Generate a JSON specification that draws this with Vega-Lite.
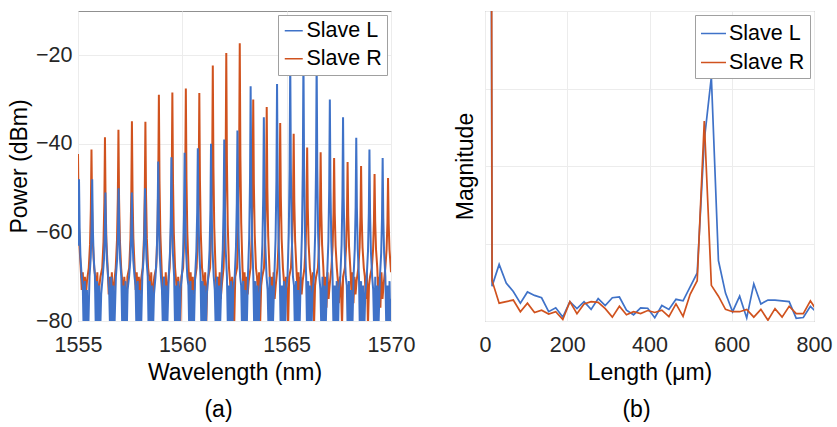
{
"$schema": "https://vega.github.io/schema/vega-lite/v6.json",
"padding": {"left": 8, "top": 10, "right": 5, "bottom": 5},
"background": "white",
"spacing": 37,
"config": {
 "font": "Liberation Sans",
 "view": {"stroke": "#909090", "strokeWidth": 1},
 "axis": {"domain": false, "ticks": false, "grid": true, "gridColor": "#ececec", "gridWidth": 1, "labelFont": "Liberation Sans", "labelFontSize": 21.5, "labelColor": "#262626", "labelFlush": false, "labelOverlap": false, "titleFont": "Liberation Sans", "titleFontSize": 23, "titleFontWeight": "normal", "titleColor": "#000000"},
 "legend": {"labelFont": "Liberation Sans", "labelFontSize": 21.5, "labelColor": "#000000", "fillColor": "white", "strokeColor": "#a0a0a0", "padding": 5, "rowPadding": 5, "labelOffset": 2, "symbolStrokeWidth": 1.5, "cornerRadius": 0},
 "title": {"font": "Liberation Sans", "fontSize": 23, "fontWeight": "normal", "color": "#000000"}
},
"datasets": {
"a": [
{"s":"R","x":1555.000,"y":-42.3},{"s":"R","x":1555.030,"y":-55.2},{"s":"R","x":1555.070,"y":-62.9},{"s":"R","x":1555.130,"y":-68},
{"s":"R","x":1555.180,"y":-73},{"s":"R","x":1555.230,"y":-69},{"s":"R","x":1555.280,"y":-76},{"s":"R","x":1555.330,"y":-70},{"s":"R","x":1555.380,"y":-74},{"s":"R","x":1555.430,"y":-71},
{"s":"R","x":1555.516,"y":-68},{"s":"R","x":1555.576,"y":-62.7},{"s":"R","x":1555.616,"y":-54.7},{"s":"R","x":1555.646,"y":-41.3},{"s":"R","x":1555.676,"y":-54.7},{"s":"R","x":1555.716,"y":-62.7},{"s":"R","x":1555.776,"y":-68},
{"s":"R","x":1555.826,"y":-70},{"s":"R","x":1555.876,"y":-75},{"s":"R","x":1555.926,"y":-69},{"s":"R","x":1555.976,"y":-81},{"s":"R","x":1556.026,"y":-72},{"s":"R","x":1556.076,"y":-70},
{"s":"R","x":1556.162,"y":-68},{"s":"R","x":1556.222,"y":-62.1},{"s":"R","x":1556.262,"y":-53.3},{"s":"R","x":1556.292,"y":-38.5},{"s":"R","x":1556.322,"y":-53.3},{"s":"R","x":1556.362,"y":-62.1},{"s":"R","x":1556.422,"y":-68},
{"s":"R","x":1556.472,"y":-74},{"s":"R","x":1556.522,"y":-70},{"s":"R","x":1556.572,"y":-77},{"s":"R","x":1556.622,"y":-69},{"s":"R","x":1556.672,"y":-75},{"s":"R","x":1556.722,"y":-72},
{"s":"R","x":1556.808,"y":-68},{"s":"R","x":1556.868,"y":-61.8},{"s":"R","x":1556.908,"y":-52.4},{"s":"R","x":1556.938,"y":-36.8},{"s":"R","x":1556.968,"y":-52.4},{"s":"R","x":1557.008,"y":-61.8},{"s":"R","x":1557.068,"y":-68},
{"s":"R","x":1557.118,"y":-71},{"s":"R","x":1557.168,"y":-76},{"s":"R","x":1557.218,"y":-70},{"s":"R","x":1557.268,"y":-73},{"s":"R","x":1557.318,"y":-81},{"s":"R","x":1557.368,"y":-70},
{"s":"R","x":1557.454,"y":-68},{"s":"R","x":1557.514,"y":-61.4},{"s":"R","x":1557.554,"y":-51.5},{"s":"R","x":1557.584,"y":-34.9},{"s":"R","x":1557.614,"y":-51.5},{"s":"R","x":1557.654,"y":-61.4},{"s":"R","x":1557.714,"y":-68},
{"s":"R","x":1557.764,"y":-73},{"s":"R","x":1557.814,"y":-69},{"s":"R","x":1557.864,"y":-76},{"s":"R","x":1557.914,"y":-70},{"s":"R","x":1557.964,"y":-74},{"s":"R","x":1558.014,"y":-71},
{"s":"R","x":1558.100,"y":-68},{"s":"R","x":1558.160,"y":-61.4},{"s":"R","x":1558.200,"y":-51.5},{"s":"R","x":1558.230,"y":-35.0},{"s":"R","x":1558.260,"y":-51.5},{"s":"R","x":1558.300,"y":-61.4},{"s":"R","x":1558.360,"y":-68},
{"s":"R","x":1558.410,"y":-70},{"s":"R","x":1558.460,"y":-75},{"s":"R","x":1558.510,"y":-69},{"s":"R","x":1558.560,"y":-81},{"s":"R","x":1558.610,"y":-72},{"s":"R","x":1558.660,"y":-70},
{"s":"R","x":1558.746,"y":-68},{"s":"R","x":1558.806,"y":-60.2},{"s":"R","x":1558.846,"y":-48.5},{"s":"R","x":1558.876,"y":-28.9},{"s":"R","x":1558.906,"y":-48.5},{"s":"R","x":1558.946,"y":-60.2},{"s":"R","x":1559.006,"y":-68},
{"s":"R","x":1559.056,"y":-74},{"s":"R","x":1559.106,"y":-70},{"s":"R","x":1559.156,"y":-77},{"s":"R","x":1559.206,"y":-69},{"s":"R","x":1559.256,"y":-75},{"s":"R","x":1559.306,"y":-72},
{"s":"R","x":1559.392,"y":-68},{"s":"R","x":1559.452,"y":-60.1},{"s":"R","x":1559.492,"y":-48.2},{"s":"R","x":1559.522,"y":-28.4},{"s":"R","x":1559.552,"y":-48.2},{"s":"R","x":1559.592,"y":-60.1},{"s":"R","x":1559.652,"y":-68},
{"s":"R","x":1559.702,"y":-71},{"s":"R","x":1559.752,"y":-76},{"s":"R","x":1559.802,"y":-70},{"s":"R","x":1559.852,"y":-73},{"s":"R","x":1559.902,"y":-81},{"s":"R","x":1559.952,"y":-70},
{"s":"R","x":1560.038,"y":-68},{"s":"R","x":1560.098,"y":-59.9},{"s":"R","x":1560.138,"y":-47.8},{"s":"R","x":1560.168,"y":-27.5},{"s":"R","x":1560.198,"y":-47.8},{"s":"R","x":1560.238,"y":-59.9},{"s":"R","x":1560.298,"y":-68},
{"s":"R","x":1560.348,"y":-73},{"s":"R","x":1560.398,"y":-69},{"s":"R","x":1560.448,"y":-76},{"s":"R","x":1560.498,"y":-70},{"s":"R","x":1560.548,"y":-74},{"s":"R","x":1560.598,"y":-71},
{"s":"R","x":1560.684,"y":-68},{"s":"R","x":1560.744,"y":-60.1},{"s":"R","x":1560.784,"y":-48.3},{"s":"R","x":1560.814,"y":-28.5},{"s":"R","x":1560.844,"y":-48.3},{"s":"R","x":1560.884,"y":-60.1},{"s":"R","x":1560.944,"y":-68},
{"s":"R","x":1560.994,"y":-70},{"s":"R","x":1561.044,"y":-75},{"s":"R","x":1561.094,"y":-69},{"s":"R","x":1561.144,"y":-81},{"s":"R","x":1561.194,"y":-72},{"s":"R","x":1561.244,"y":-70},
{"s":"R","x":1561.330,"y":-68},{"s":"R","x":1561.390,"y":-58.9},{"s":"R","x":1561.430,"y":-45.2},{"s":"R","x":1561.460,"y":-22.3},{"s":"R","x":1561.490,"y":-45.2},{"s":"R","x":1561.530,"y":-58.9},{"s":"R","x":1561.590,"y":-68},
{"s":"R","x":1561.640,"y":-74},{"s":"R","x":1561.690,"y":-70},{"s":"R","x":1561.740,"y":-77},{"s":"R","x":1561.790,"y":-69},{"s":"R","x":1561.840,"y":-75},{"s":"R","x":1561.890,"y":-72},
{"s":"R","x":1561.976,"y":-68},{"s":"R","x":1562.036,"y":-58.3},{"s":"R","x":1562.076,"y":-43.8},{"s":"R","x":1562.106,"y":-19.5},{"s":"R","x":1562.136,"y":-43.8},{"s":"R","x":1562.176,"y":-58.3},{"s":"R","x":1562.236,"y":-68},
{"s":"R","x":1562.286,"y":-71},{"s":"R","x":1562.336,"y":-76},{"s":"R","x":1562.386,"y":-70},{"s":"R","x":1562.436,"y":-73},{"s":"R","x":1562.486,"y":-81},{"s":"R","x":1562.536,"y":-70},
{"s":"R","x":1562.622,"y":-68},{"s":"R","x":1562.682,"y":-57.9},{"s":"R","x":1562.722,"y":-42.7},{"s":"R","x":1562.752,"y":-17.3},{"s":"R","x":1562.782,"y":-42.7},{"s":"R","x":1562.822,"y":-57.9},{"s":"R","x":1562.882,"y":-68},
{"s":"R","x":1562.932,"y":-73},{"s":"R","x":1562.982,"y":-69},{"s":"R","x":1563.032,"y":-76},{"s":"R","x":1563.082,"y":-70},{"s":"R","x":1563.132,"y":-74},{"s":"R","x":1563.182,"y":-71},
{"s":"R","x":1563.268,"y":-68},{"s":"R","x":1563.328,"y":-60.4},{"s":"R","x":1563.368,"y":-49.0},{"s":"R","x":1563.398,"y":-30.0},{"s":"R","x":1563.428,"y":-49.0},{"s":"R","x":1563.468,"y":-60.4},{"s":"R","x":1563.528,"y":-68},
{"s":"R","x":1563.578,"y":-70},{"s":"R","x":1563.628,"y":-75},{"s":"R","x":1563.678,"y":-69},{"s":"R","x":1563.728,"y":-81},{"s":"R","x":1563.778,"y":-72},{"s":"R","x":1563.828,"y":-70},
{"s":"R","x":1563.914,"y":-68},{"s":"R","x":1563.974,"y":-60.7},{"s":"R","x":1564.014,"y":-49.9},{"s":"R","x":1564.044,"y":-31.7},{"s":"R","x":1564.074,"y":-49.9},{"s":"R","x":1564.114,"y":-60.7},{"s":"R","x":1564.174,"y":-68},
{"s":"R","x":1564.224,"y":-74},{"s":"R","x":1564.274,"y":-70},{"s":"R","x":1564.324,"y":-77},{"s":"R","x":1564.374,"y":-69},{"s":"R","x":1564.424,"y":-75},{"s":"R","x":1564.474,"y":-72},
{"s":"R","x":1564.560,"y":-68},{"s":"R","x":1564.620,"y":-61.5},{"s":"R","x":1564.660,"y":-51.7},{"s":"R","x":1564.690,"y":-35.3},{"s":"R","x":1564.720,"y":-51.7},{"s":"R","x":1564.760,"y":-61.5},{"s":"R","x":1564.820,"y":-68},
{"s":"R","x":1564.870,"y":-71},{"s":"R","x":1564.920,"y":-76},{"s":"R","x":1564.970,"y":-70},{"s":"R","x":1565.020,"y":-73},{"s":"R","x":1565.070,"y":-81},{"s":"R","x":1565.120,"y":-70},
{"s":"R","x":1565.206,"y":-68},{"s":"R","x":1565.266,"y":-61.9},{"s":"R","x":1565.306,"y":-52.9},{"s":"R","x":1565.336,"y":-37.7},{"s":"R","x":1565.366,"y":-52.9},{"s":"R","x":1565.406,"y":-61.9},{"s":"R","x":1565.466,"y":-68},
{"s":"R","x":1565.516,"y":-73},{"s":"R","x":1565.566,"y":-69},{"s":"R","x":1565.616,"y":-76},{"s":"R","x":1565.666,"y":-70},{"s":"R","x":1565.716,"y":-74},{"s":"R","x":1565.766,"y":-71},
{"s":"R","x":1565.852,"y":-68},{"s":"R","x":1565.912,"y":-62.6},{"s":"R","x":1565.952,"y":-54.4},{"s":"R","x":1565.982,"y":-40.8},{"s":"R","x":1566.012,"y":-54.4},{"s":"R","x":1566.052,"y":-62.6},{"s":"R","x":1566.112,"y":-68},
{"s":"R","x":1566.162,"y":-70},{"s":"R","x":1566.212,"y":-75},{"s":"R","x":1566.262,"y":-69},{"s":"R","x":1566.312,"y":-81},{"s":"R","x":1566.362,"y":-72},{"s":"R","x":1566.412,"y":-70},
{"s":"R","x":1566.498,"y":-68},{"s":"R","x":1566.558,"y":-62.8},{"s":"R","x":1566.598,"y":-55.0},{"s":"R","x":1566.628,"y":-41.9},{"s":"R","x":1566.658,"y":-55.0},{"s":"R","x":1566.698,"y":-62.8},{"s":"R","x":1566.758,"y":-68},
{"s":"R","x":1566.808,"y":-74},{"s":"R","x":1566.858,"y":-70},{"s":"R","x":1566.908,"y":-77},{"s":"R","x":1566.958,"y":-69},{"s":"R","x":1567.008,"y":-75},{"s":"R","x":1567.058,"y":-72},
{"s":"R","x":1567.144,"y":-68},{"s":"R","x":1567.204,"y":-63.0},{"s":"R","x":1567.244,"y":-55.6},{"s":"R","x":1567.274,"y":-43.2},{"s":"R","x":1567.304,"y":-55.6},{"s":"R","x":1567.344,"y":-63.0},{"s":"R","x":1567.404,"y":-68},
{"s":"R","x":1567.454,"y":-71},{"s":"R","x":1567.504,"y":-76},{"s":"R","x":1567.554,"y":-70},{"s":"R","x":1567.604,"y":-73},{"s":"R","x":1567.654,"y":-81},{"s":"R","x":1567.704,"y":-70},
{"s":"R","x":1567.790,"y":-68},{"s":"R","x":1567.850,"y":-63.2},{"s":"R","x":1567.890,"y":-56.1},{"s":"R","x":1567.920,"y":-44.1},{"s":"R","x":1567.950,"y":-56.1},{"s":"R","x":1567.990,"y":-63.2},{"s":"R","x":1568.050,"y":-68},
{"s":"R","x":1568.100,"y":-73},{"s":"R","x":1568.150,"y":-69},{"s":"R","x":1568.200,"y":-76},{"s":"R","x":1568.250,"y":-70},{"s":"R","x":1568.300,"y":-74},{"s":"R","x":1568.350,"y":-71},
{"s":"R","x":1568.436,"y":-68},{"s":"R","x":1568.496,"y":-63.4},{"s":"R","x":1568.536,"y":-56.5},{"s":"R","x":1568.566,"y":-45.0},{"s":"R","x":1568.596,"y":-56.5},{"s":"R","x":1568.636,"y":-63.4},{"s":"R","x":1568.696,"y":-68},
{"s":"R","x":1568.746,"y":-70},{"s":"R","x":1568.796,"y":-75},{"s":"R","x":1568.846,"y":-69},{"s":"R","x":1568.896,"y":-81},{"s":"R","x":1568.946,"y":-72},{"s":"R","x":1568.996,"y":-70},
{"s":"R","x":1569.082,"y":-68},{"s":"R","x":1569.142,"y":-63.8},{"s":"R","x":1569.182,"y":-57.4},{"s":"R","x":1569.212,"y":-46.8},{"s":"R","x":1569.242,"y":-57.4},{"s":"R","x":1569.282,"y":-63.8},{"s":"R","x":1569.342,"y":-68},
{"s":"R","x":1569.392,"y":-74},{"s":"R","x":1569.442,"y":-70},{"s":"R","x":1569.492,"y":-77},{"s":"R","x":1569.542,"y":-69},{"s":"R","x":1569.592,"y":-75},{"s":"R","x":1569.642,"y":-72},
{"s":"R","x":1569.728,"y":-68},{"s":"R","x":1569.788,"y":-63.9},{"s":"R","x":1569.828,"y":-57.9},{"s":"R","x":1569.858,"y":-47.7},{"s":"R","x":1569.888,"y":-57.9},{"s":"R","x":1569.928,"y":-63.9},{"s":"R","x":1569.988,"y":-68},{"s":"R","x":1570.000,"y":-69},
{"s":"L","x":1555.000,"y":-63},{"s":"L","x":1555.018,"y":-59},{"s":"L","x":1555.048,"y":-48},{"s":"L","x":1555.078,"y":-59},{"s":"L","x":1555.118,"y":-65.6},{"s":"L","x":1555.178,"y":-70},
{"s":"L","x":1555.228,"y":-72},{"s":"L","x":1555.278,"y":-84},{"s":"L","x":1555.328,"y":-71},{"s":"L","x":1555.378,"y":-83},{"s":"L","x":1555.428,"y":-73},{"s":"L","x":1555.478,"y":-85},
{"s":"L","x":1555.551,"y":-70},{"s":"L","x":1555.611,"y":-65.6},{"s":"L","x":1555.651,"y":-59},{"s":"L","x":1555.681,"y":-48},{"s":"L","x":1555.711,"y":-59},{"s":"L","x":1555.751,"y":-65.6},{"s":"L","x":1555.811,"y":-70},
{"s":"L","x":1555.861,"y":-84},{"s":"L","x":1555.911,"y":-71},{"s":"L","x":1555.961,"y":-85},{"s":"L","x":1556.011,"y":-72},{"s":"L","x":1556.061,"y":-83},{"s":"L","x":1556.111,"y":-74},
{"s":"L","x":1556.183,"y":-70},{"s":"L","x":1556.243,"y":-66.2},{"s":"L","x":1556.283,"y":-60.5},{"s":"L","x":1556.313,"y":-51},{"s":"L","x":1556.343,"y":-60.5},{"s":"L","x":1556.383,"y":-66.2},{"s":"L","x":1556.443,"y":-70},
{"s":"L","x":1556.493,"y":-73},{"s":"L","x":1556.543,"y":-83},{"s":"L","x":1556.593,"y":-70},{"s":"L","x":1556.643,"y":-86},{"s":"L","x":1556.693,"y":-72},{"s":"L","x":1556.743,"y":-82},
{"s":"L","x":1556.816,"y":-70},{"s":"L","x":1556.876,"y":-66},{"s":"L","x":1556.916,"y":-60},{"s":"L","x":1556.946,"y":-50},{"s":"L","x":1556.976,"y":-60},{"s":"L","x":1557.016,"y":-66},{"s":"L","x":1557.076,"y":-70},
{"s":"L","x":1557.126,"y":-83},{"s":"L","x":1557.176,"y":-72},{"s":"L","x":1557.226,"y":-84},{"s":"L","x":1557.276,"y":-71},{"s":"L","x":1557.326,"y":-85},{"s":"L","x":1557.376,"y":-73},
{"s":"L","x":1557.449,"y":-70},{"s":"L","x":1557.509,"y":-66.2},{"s":"L","x":1557.549,"y":-60.5},{"s":"L","x":1557.579,"y":-51},{"s":"L","x":1557.609,"y":-60.5},{"s":"L","x":1557.649,"y":-66.2},{"s":"L","x":1557.709,"y":-70},
{"s":"L","x":1557.759,"y":-72},{"s":"L","x":1557.809,"y":-84},{"s":"L","x":1557.859,"y":-71},{"s":"L","x":1557.909,"y":-83},{"s":"L","x":1557.959,"y":-73},{"s":"L","x":1558.009,"y":-85},
{"s":"L","x":1558.082,"y":-70},{"s":"L","x":1558.142,"y":-66},{"s":"L","x":1558.182,"y":-60},{"s":"L","x":1558.212,"y":-50},{"s":"L","x":1558.242,"y":-60},{"s":"L","x":1558.282,"y":-66},{"s":"L","x":1558.342,"y":-70},
{"s":"L","x":1558.392,"y":-84},{"s":"L","x":1558.442,"y":-71},{"s":"L","x":1558.492,"y":-85},{"s":"L","x":1558.542,"y":-72},{"s":"L","x":1558.592,"y":-83},{"s":"L","x":1558.642,"y":-74},
{"s":"L","x":1558.714,"y":-70},{"s":"L","x":1558.774,"y":-64.8},{"s":"L","x":1558.814,"y":-57},{"s":"L","x":1558.844,"y":-44},{"s":"L","x":1558.874,"y":-57},{"s":"L","x":1558.914,"y":-64.8},{"s":"L","x":1558.974,"y":-70},
{"s":"L","x":1559.024,"y":-73},{"s":"L","x":1559.074,"y":-83},{"s":"L","x":1559.124,"y":-70},{"s":"L","x":1559.174,"y":-86},{"s":"L","x":1559.224,"y":-72},{"s":"L","x":1559.274,"y":-82},
{"s":"L","x":1559.347,"y":-70},{"s":"L","x":1559.407,"y":-64.6},{"s":"L","x":1559.447,"y":-56.5},{"s":"L","x":1559.477,"y":-43},{"s":"L","x":1559.507,"y":-56.5},{"s":"L","x":1559.547,"y":-64.6},{"s":"L","x":1559.607,"y":-70},
{"s":"L","x":1559.657,"y":-83},{"s":"L","x":1559.707,"y":-72},{"s":"L","x":1559.757,"y":-84},{"s":"L","x":1559.807,"y":-71},{"s":"L","x":1559.857,"y":-85},{"s":"L","x":1559.907,"y":-73},
{"s":"L","x":1559.980,"y":-70},{"s":"L","x":1560.040,"y":-64.4},{"s":"L","x":1560.080,"y":-56},{"s":"L","x":1560.110,"y":-42},{"s":"L","x":1560.140,"y":-56},{"s":"L","x":1560.180,"y":-64.4},{"s":"L","x":1560.240,"y":-70},
{"s":"L","x":1560.290,"y":-72},{"s":"L","x":1560.340,"y":-84},{"s":"L","x":1560.390,"y":-71},{"s":"L","x":1560.440,"y":-83},{"s":"L","x":1560.490,"y":-73},{"s":"L","x":1560.540,"y":-85},
{"s":"L","x":1560.612,"y":-70},{"s":"L","x":1560.672,"y":-64.2},{"s":"L","x":1560.712,"y":-55.5},{"s":"L","x":1560.742,"y":-41},{"s":"L","x":1560.772,"y":-55.5},{"s":"L","x":1560.812,"y":-64.2},{"s":"L","x":1560.872,"y":-70},
{"s":"L","x":1560.922,"y":-84},{"s":"L","x":1560.972,"y":-71},{"s":"L","x":1561.022,"y":-85},{"s":"L","x":1561.072,"y":-72},{"s":"L","x":1561.122,"y":-83},{"s":"L","x":1561.172,"y":-74},
{"s":"L","x":1561.245,"y":-70},{"s":"L","x":1561.305,"y":-64},{"s":"L","x":1561.345,"y":-55},{"s":"L","x":1561.375,"y":-40},{"s":"L","x":1561.405,"y":-55},{"s":"L","x":1561.445,"y":-64},{"s":"L","x":1561.505,"y":-70},
{"s":"L","x":1561.555,"y":-73},{"s":"L","x":1561.605,"y":-83},{"s":"L","x":1561.655,"y":-70},{"s":"L","x":1561.705,"y":-86},{"s":"L","x":1561.755,"y":-72},{"s":"L","x":1561.805,"y":-82},
{"s":"L","x":1561.878,"y":-70},{"s":"L","x":1561.938,"y":-63.8},{"s":"L","x":1561.978,"y":-54.5},{"s":"L","x":1562.008,"y":-39},{"s":"L","x":1562.038,"y":-54.5},{"s":"L","x":1562.078,"y":-63.8},{"s":"L","x":1562.138,"y":-70},
{"s":"L","x":1562.188,"y":-83},{"s":"L","x":1562.238,"y":-72},{"s":"L","x":1562.288,"y":-84},{"s":"L","x":1562.338,"y":-71},{"s":"L","x":1562.388,"y":-85},{"s":"L","x":1562.438,"y":-73},
{"s":"L","x":1562.510,"y":-70},{"s":"L","x":1562.570,"y":-63.4},{"s":"L","x":1562.610,"y":-53.5},{"s":"L","x":1562.640,"y":-37},{"s":"L","x":1562.670,"y":-53.5},{"s":"L","x":1562.710,"y":-63.4},{"s":"L","x":1562.770,"y":-70},
{"s":"L","x":1562.820,"y":-72},{"s":"L","x":1562.870,"y":-84},{"s":"L","x":1562.920,"y":-71},{"s":"L","x":1562.970,"y":-83},{"s":"L","x":1563.020,"y":-73},{"s":"L","x":1563.070,"y":-85},
{"s":"L","x":1563.143,"y":-70},{"s":"L","x":1563.203,"y":-61.4},{"s":"L","x":1563.243,"y":-48.5},{"s":"L","x":1563.273,"y":-27},{"s":"L","x":1563.303,"y":-48.5},{"s":"L","x":1563.343,"y":-61.4},{"s":"L","x":1563.403,"y":-70},
{"s":"L","x":1563.453,"y":-84},{"s":"L","x":1563.503,"y":-71},{"s":"L","x":1563.553,"y":-85},{"s":"L","x":1563.603,"y":-72},{"s":"L","x":1563.653,"y":-83},{"s":"L","x":1563.703,"y":-74},
{"s":"L","x":1563.776,"y":-70},{"s":"L","x":1563.836,"y":-62.8},{"s":"L","x":1563.876,"y":-52},{"s":"L","x":1563.906,"y":-34},{"s":"L","x":1563.936,"y":-52},{"s":"L","x":1563.976,"y":-62.8},{"s":"L","x":1564.036,"y":-70},
{"s":"L","x":1564.086,"y":-73},{"s":"L","x":1564.136,"y":-83},{"s":"L","x":1564.186,"y":-70},{"s":"L","x":1564.236,"y":-86},{"s":"L","x":1564.286,"y":-72},{"s":"L","x":1564.336,"y":-82},
{"s":"L","x":1564.409,"y":-70},{"s":"L","x":1564.469,"y":-61.3},{"s":"L","x":1564.509,"y":-48.3},{"s":"L","x":1564.539,"y":-26.5},{"s":"L","x":1564.569,"y":-48.3},{"s":"L","x":1564.609,"y":-61.3},{"s":"L","x":1564.669,"y":-70},
{"s":"L","x":1564.719,"y":-83},{"s":"L","x":1564.769,"y":-72},{"s":"L","x":1564.819,"y":-84},{"s":"L","x":1564.869,"y":-71},{"s":"L","x":1564.919,"y":-85},{"s":"L","x":1564.969,"y":-73},
{"s":"L","x":1565.041,"y":-70},{"s":"L","x":1565.101,"y":-60.2},{"s":"L","x":1565.141,"y":-45.5},{"s":"L","x":1565.171,"y":-21},{"s":"L","x":1565.201,"y":-45.5},{"s":"L","x":1565.241,"y":-60.2},{"s":"L","x":1565.301,"y":-70},
{"s":"L","x":1565.351,"y":-72},{"s":"L","x":1565.401,"y":-84},{"s":"L","x":1565.451,"y":-71},{"s":"L","x":1565.501,"y":-83},{"s":"L","x":1565.551,"y":-73},{"s":"L","x":1565.601,"y":-85},
{"s":"L","x":1565.674,"y":-70},{"s":"L","x":1565.734,"y":-60},{"s":"L","x":1565.774,"y":-45},{"s":"L","x":1565.804,"y":-20},{"s":"L","x":1565.834,"y":-45},{"s":"L","x":1565.874,"y":-60},{"s":"L","x":1565.934,"y":-70},
{"s":"L","x":1565.984,"y":-84},{"s":"L","x":1566.034,"y":-71},{"s":"L","x":1566.084,"y":-85},{"s":"L","x":1566.134,"y":-72},{"s":"L","x":1566.184,"y":-83},{"s":"L","x":1566.234,"y":-74},
{"s":"L","x":1566.307,"y":-70},{"s":"L","x":1566.367,"y":-60.2},{"s":"L","x":1566.407,"y":-45.5},{"s":"L","x":1566.437,"y":-21},{"s":"L","x":1566.467,"y":-45.5},{"s":"L","x":1566.507,"y":-60.2},{"s":"L","x":1566.567,"y":-70},
{"s":"L","x":1566.617,"y":-73},{"s":"L","x":1566.667,"y":-83},{"s":"L","x":1566.717,"y":-70},{"s":"L","x":1566.767,"y":-86},{"s":"L","x":1566.817,"y":-72},{"s":"L","x":1566.867,"y":-82},
{"s":"L","x":1566.939,"y":-70},{"s":"L","x":1566.999,"y":-62},{"s":"L","x":1567.039,"y":-50},{"s":"L","x":1567.069,"y":-30},{"s":"L","x":1567.099,"y":-50},{"s":"L","x":1567.139,"y":-62},{"s":"L","x":1567.199,"y":-70},
{"s":"L","x":1567.249,"y":-83},{"s":"L","x":1567.299,"y":-72},{"s":"L","x":1567.349,"y":-84},{"s":"L","x":1567.399,"y":-71},{"s":"L","x":1567.449,"y":-85},{"s":"L","x":1567.499,"y":-73},
{"s":"L","x":1567.572,"y":-70},{"s":"L","x":1567.632,"y":-62.8},{"s":"L","x":1567.672,"y":-52},{"s":"L","x":1567.702,"y":-34},{"s":"L","x":1567.732,"y":-52},{"s":"L","x":1567.772,"y":-62.8},{"s":"L","x":1567.832,"y":-70},
{"s":"L","x":1567.882,"y":-72},{"s":"L","x":1567.932,"y":-84},{"s":"L","x":1567.982,"y":-71},{"s":"L","x":1568.032,"y":-83},{"s":"L","x":1568.082,"y":-73},{"s":"L","x":1568.132,"y":-85},
{"s":"L","x":1568.205,"y":-70},{"s":"L","x":1568.265,"y":-63.7},{"s":"L","x":1568.305,"y":-54.3},{"s":"L","x":1568.335,"y":-38.6},{"s":"L","x":1568.365,"y":-54.3},{"s":"L","x":1568.405,"y":-63.7},{"s":"L","x":1568.465,"y":-70},
{"s":"L","x":1568.515,"y":-84},{"s":"L","x":1568.565,"y":-71},{"s":"L","x":1568.615,"y":-85},{"s":"L","x":1568.665,"y":-72},{"s":"L","x":1568.715,"y":-83},{"s":"L","x":1568.765,"y":-74},
{"s":"L","x":1568.837,"y":-70},{"s":"L","x":1568.897,"y":-64.3},{"s":"L","x":1568.937,"y":-55.7},{"s":"L","x":1568.967,"y":-41.3},{"s":"L","x":1568.997,"y":-55.7},{"s":"L","x":1569.037,"y":-64.3},{"s":"L","x":1569.097,"y":-70},
{"s":"L","x":1569.147,"y":-73},{"s":"L","x":1569.197,"y":-83},{"s":"L","x":1569.247,"y":-70},{"s":"L","x":1569.297,"y":-86},{"s":"L","x":1569.347,"y":-72},{"s":"L","x":1569.397,"y":-82},
{"s":"L","x":1569.470,"y":-70},{"s":"L","x":1569.530,"y":-64.6},{"s":"L","x":1569.570,"y":-56.6},{"s":"L","x":1569.600,"y":-43.2},{"s":"L","x":1569.630,"y":-56.6},{"s":"L","x":1569.670,"y":-64.6},{"s":"L","x":1569.730,"y":-70},
{"s":"L","x":1569.780,"y":-83},{"s":"L","x":1569.830,"y":-72},{"s":"L","x":1569.880,"y":-84},{"s":"L","x":1569.930,"y":-71},{"s":"L","x":1569.980,"y":-85},{"s":"L","x":1570.000,"y":-75}
],
"b": [
{"s":"L","x":0,"y":40},{"s":"L","x":17.2,"y":0.45},{"s":"L","x":34.4,"y":0.73},{"s":"L","x":51.6,"y":0.49},{"s":"L","x":68.8,"y":0.38},{"s":"L","x":86,"y":0.23},{"s":"L","x":103.2,"y":0.375},{"s":"L","x":120.4,"y":0.33},{"s":"L","x":137.6,"y":0.30},{"s":"L","x":154.8,"y":0.12},{"s":"L","x":172,"y":0.17},{"s":"L","x":189.2,"y":0.05},{"s":"L","x":206.4,"y":0.25},{"s":"L","x":223.6,"y":0.16},{"s":"L","x":240.8,"y":0.25},{"s":"L","x":258,"y":0.15},{"s":"L","x":275.2,"y":0.29},{"s":"L","x":292.4,"y":0.20},{"s":"L","x":309.6,"y":0.30},{"s":"L","x":326.8,"y":0.31},{"s":"L","x":344,"y":0.14},{"s":"L","x":361.2,"y":0.08},{"s":"L","x":378.4,"y":0.17},{"s":"L","x":395.6,"y":0.165},{"s":"L","x":412.8,"y":0.043},{"s":"L","x":430,"y":0.20},{"s":"L","x":447.2,"y":0.15},{"s":"L","x":464.4,"y":0.28},{"s":"L","x":481.6,"y":0.26},{"s":"L","x":498.8,"y":0.44},{"s":"L","x":516,"y":0.62},{"s":"L","x":533.2,"y":2.33},{"s":"L","x":550.4,"y":3.15},{"s":"L","x":567.6,"y":0.78},{"s":"L","x":584.8,"y":0.36},{"s":"L","x":602,"y":0.12},{"s":"L","x":619.2,"y":0.32},{"s":"L","x":636.4,"y":0.04},{"s":"L","x":653.6,"y":0.48},{"s":"L","x":670.8,"y":0.22},{"s":"L","x":688,"y":0.27},{"s":"L","x":705.2,"y":0.27},{"s":"L","x":722.4,"y":0.26},{"s":"L","x":739.6,"y":0.25},{"s":"L","x":756.8,"y":0.035},{"s":"L","x":774,"y":0.045},{"s":"L","x":791.2,"y":0.19},{"s":"L","x":808.4,"y":0.1},
{"s":"R","x":0,"y":60},{"s":"R","x":17.2,"y":0.52},{"s":"R","x":34.4,"y":0.23},{"s":"R","x":51.6,"y":0.25},{"s":"R","x":68.8,"y":0.27},{"s":"R","x":86,"y":0.12},{"s":"R","x":103.2,"y":0.23},{"s":"R","x":120.4,"y":0.11},{"s":"R","x":137.6,"y":0.14},{"s":"R","x":154.8,"y":0.09},{"s":"R","x":172,"y":0.12},{"s":"R","x":189.2,"y":0.02},{"s":"R","x":206.4,"y":0.25},{"s":"R","x":223.6,"y":0.095},{"s":"R","x":240.8,"y":0.22},{"s":"R","x":258,"y":0.25},{"s":"R","x":275.2,"y":0.24},{"s":"R","x":292.4,"y":0.16},{"s":"R","x":309.6,"y":0.05},{"s":"R","x":326.8,"y":0.19},{"s":"R","x":344,"y":0.08},{"s":"R","x":361.2,"y":0.12},{"s":"R","x":378.4,"y":0.095},{"s":"R","x":395.6,"y":0.135},{"s":"R","x":412.8,"y":0.11},{"s":"R","x":430,"y":0.14},{"s":"R","x":447.2,"y":0.056},{"s":"R","x":464.4,"y":0.22},{"s":"R","x":481.6,"y":0.06},{"s":"R","x":498.8,"y":0.345},{"s":"R","x":516,"y":0.52},{"s":"R","x":533.2,"y":2.58},{"s":"R","x":550.4,"y":0.46},{"s":"R","x":567.6,"y":0.32},{"s":"R","x":584.8,"y":0.15},{"s":"R","x":602,"y":0.12},{"s":"R","x":619.2,"y":0.12},{"s":"R","x":636.4,"y":0.15},{"s":"R","x":653.6,"y":0.05},{"s":"R","x":670.8,"y":0.15},{"s":"R","x":688,"y":0.01},{"s":"R","x":705.2,"y":0.16},{"s":"R","x":722.4,"y":0.05},{"s":"R","x":739.6,"y":0.19},{"s":"R","x":756.8,"y":0.095},{"s":"R","x":774,"y":0.095},{"s":"R","x":791.2,"y":0.26},{"s":"R","x":808.4,"y":0.12}
]
},
"resolve": {"scale": {"color": "independent"}, "legend": {"color": "independent"}},
"hconcat": [
{
 "width": 313, "height": 310,
 "data": {"name": "a"},
 "title": {"text": "(a)", "orient": "bottom", "frame": "group", "dx": -16, "offset": 14},
 "mark": {"type": "line", "clip": true, "strokeWidth": 2},
 "encoding": {
  "x": {"field": "x", "type": "quantitative", "scale": {"domain": [1555, 1570], "nice": false, "zero": false}, "axis": {"values": [1555, 1560, 1565, 1570], "format": "d", "title": "Wavelength (nm)", "labelPadding": 13, "titlePadding": 6}},
  "y": {"field": "y", "type": "quantitative", "scale": {"domain": [-80, -10], "nice": false, "zero": false}, "axis": {"values": [-80, -60, -40, -20], "title": "Power (dBm)", "labelPadding": 6, "titlePadding": 4}},
  "color": {"field": "s", "type": "nominal", "scale": {"domain": ["L", "R"], "range": ["#3F72C8", "#D0521E"]}, "legend": {"title": null, "orient": "top-right", "offset": 4, "labelExpr": "'Slave ' + datum.label", "symbolSize": 324}}
 }
},
{
 "width": 329, "height": 310,
 "data": {"name": "b"},
 "title": {"text": "(b)", "orient": "bottom", "frame": "group", "dx": -13, "offset": 14},
 "mark": {"type": "line", "clip": true, "strokeWidth": 1.7},
 "encoding": {
  "x": {"field": "x", "type": "quantitative", "scale": {"domain": [0, 800], "nice": false, "zero": false}, "axis": {"values": [0, 200, 400, 600, 800], "format": "d", "title": "Length (μm)", "labelPadding": 13, "titlePadding": 6}},
  "y": {"field": "y", "type": "quantitative", "scale": {"domain": [0, 4], "nice": false, "zero": false}, "axis": {"values": [0, 1, 2, 3, 4], "labels": false, "title": "Magnitude", "titlePadding": 8}},
  "color": {"field": "s", "type": "nominal", "scale": {"domain": ["L", "R"], "range": ["#3F72C8", "#D0521E"]}, "legend": {"title": null, "orient": "top-right", "offset": 4, "labelExpr": "'Slave ' + datum.label + '\u00a0\u00a0\u00a0'", "symbolSize": 625}}
 }
}
]
}
